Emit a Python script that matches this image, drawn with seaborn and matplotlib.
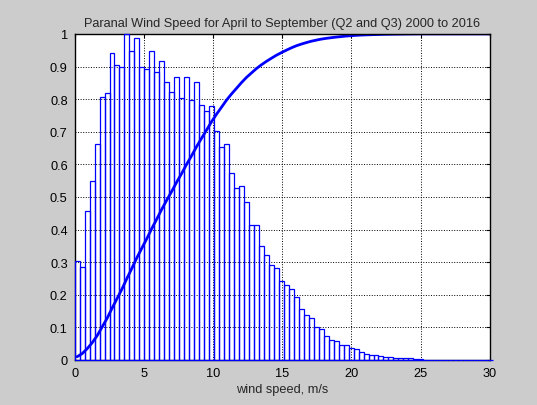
import numpy as np
import pandas as pd
import matplotlib
matplotlib.use("Agg")
import matplotlib.pyplot as plt
import seaborn as sns

# histogram of wind speed (normalised to the tallest bin), bin width in m/s
bin_width = 0.36
freq = [0.303, 0.284, 0.458, 0.548, 0.663, 0.808, 0.818, 0.941, 0.906, 0.900,
        1.000, 0.949, 0.986, 0.900, 0.892, 0.947, 0.883, 0.916, 0.853, 0.822,
        0.869, 0.804, 0.867, 0.798, 0.853, 0.783, 0.763, 0.779, 0.701, 0.652,
        0.661, 0.573, 0.528, 0.534, 0.485, 0.415, 0.413, 0.350, 0.321, 0.290,
        0.282, 0.243, 0.229, 0.219, 0.194, 0.157, 0.139, 0.129, 0.102, 0.096,
        0.072, 0.061, 0.057, 0.047, 0.047, 0.037, 0.033, 0.025, 0.018, 0.016,
        0.014, 0.013, 0.010, 0.0075, 0.006, 0.006, 0.005, 0.005, 0.004, 0.003]
n_bins_total = 84  # empty bins out to the end of the axis
freq_full = np.array(freq + [0.0] * (n_bins_total - len(freq)))

x_ticks = [0, 5, 10, 15, 20, 25, 30]
y_ticks = [0, 0.1, 0.2, 0.3, 0.4, 0.5, 0.6, 0.7, 0.8, 0.9, 1]
y_labels = ["0", "0.1", "0.2", "0.3", "0.4", "0.5", "0.6", "0.7", "0.8", "0.9", "1"]

centers = (np.arange(n_bins_total) + 0.5) * bin_width
df = pd.DataFrame({"speed": centers, "freq": freq_full,
                   "cdf": np.cumsum(freq_full) / freq_full.sum()})

sns.set_style("white")
plt.rcParams["font.family"] = ["Liberation Sans", "DejaVu Sans"]
fs = 9.2

fig = plt.figure(figsize=(5.37, 4.06), dpi=100, facecolor="#cccccc")
ax = fig.add_axes([0.139, 0.111, 0.773, 0.803])
ax.set_facecolor("white")

sns.histplot(data=df, x="speed", weights="freq", bins=n_bins_total,
             binrange=(0, n_bins_total * bin_width), fill=False,
             color="blue", linewidth=0.9, ax=ax)
for p in ax.patches:
    p.set_clip_on(False)
    p.set_zorder(3)
sns.lineplot(data=df, x="speed", y="cdf", color="blue", linewidth=2, ax=ax)

ax.set_xlim(0, 30)
ax.set_ylim(0, 1)
ax.set_xticks(x_ticks)
ax.set_yticks(y_ticks)
ax.set_yticklabels(y_labels)
ax.tick_params(direction="in", top=True, right=True, length=3, width=0.8,
               labelsize=fs, colors="black", pad=5)
ax.grid(True, color="black", linestyle=":", linewidth=0.7)
ax.set_axisbelow(True)
for s in ax.spines.values():
    s.set_color("black")
    s.set_linewidth(1)
    s.set_zorder(2.5)

ax.set_title("Paranal Wind Speed for April to September (Q2 and Q3) 2000 to 2016",
             fontsize=fs, pad=6)
ax.set_xlabel("wind speed, m/s", fontsize=fs, labelpad=3)
ax.set_ylabel("")

fig.savefig("out.png", dpi=100, facecolor=fig.get_facecolor())
